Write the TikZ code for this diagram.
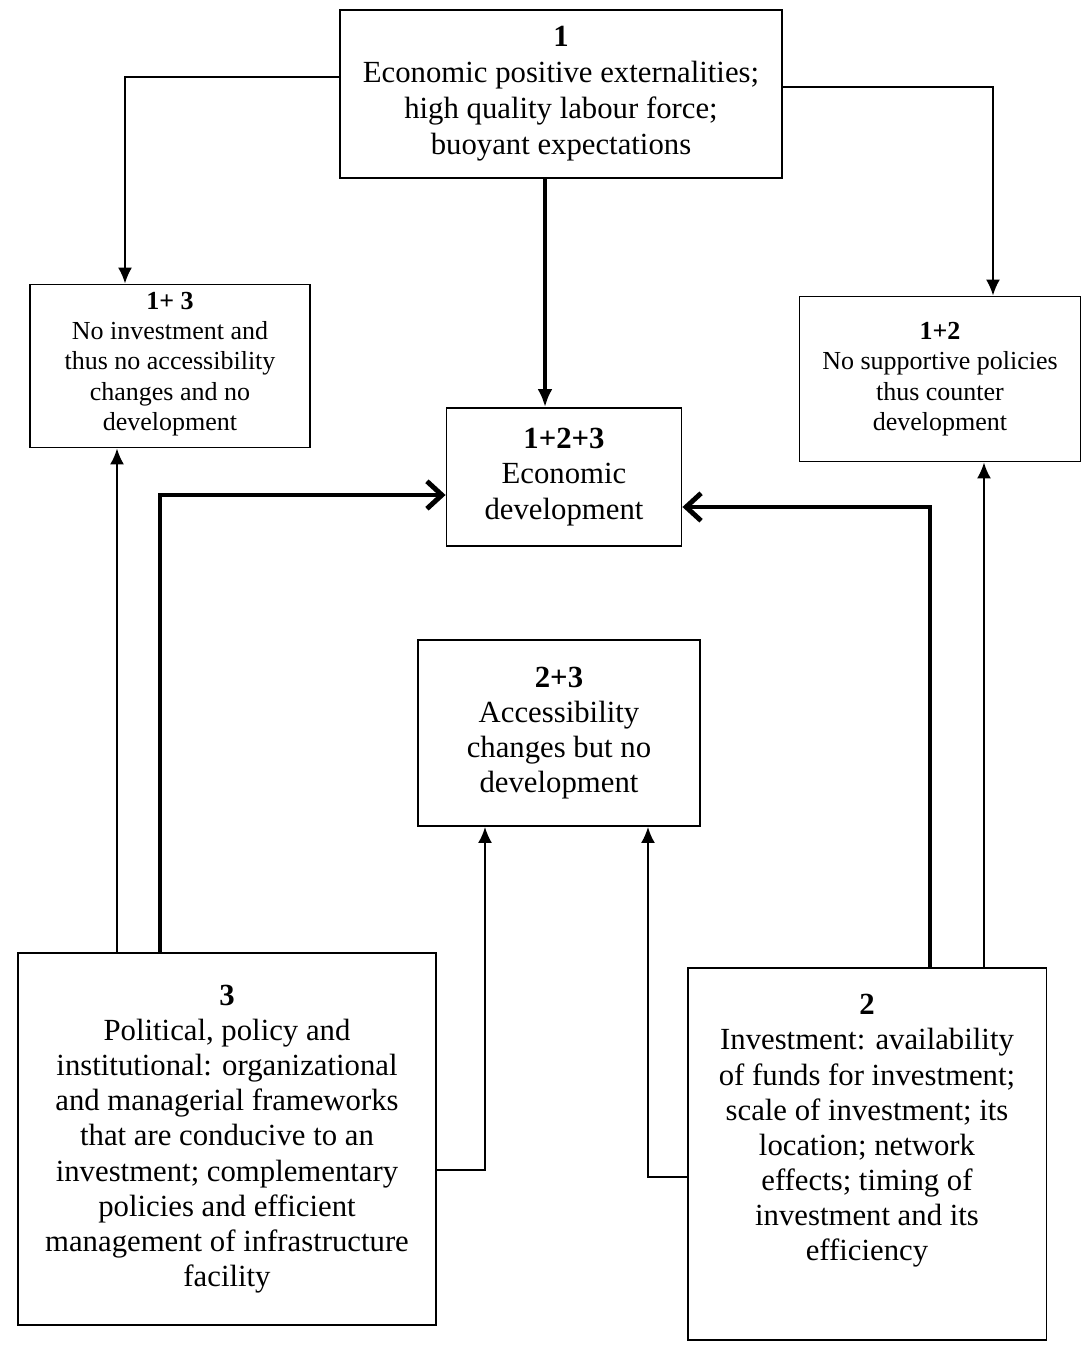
\documentclass[tikz,border=0pt]{standalone}
\usepackage{fontspec}
\setmainfont{Liberation Serif}
\usetikzlibrary{arrows.meta}
\begin{document}
\begin{tikzpicture}[x=0.02cm,y=-0.02cm,
    box/.style={draw,line width=1.1pt,align=center,inner sep=2pt},
    bigtext/.style={font=\fontsize{17.5}{20}\selectfont},
    smalltext/.style={font=\fontsize{14.8}{17.3}\selectfont},
    thin arrow/.style={line width=1.1pt,-{Latex[length=0.32cm,width=0.28cm]}},
    thick arrow/.style={line width=2.8pt,-{Straight Barb[length=0.3cm,width=0.55cm]}},
    thick down/.style={line width=2.8pt,-{Latex[length=0.36cm,width=0.3cm]}}]
    \useasboundingbox (0,0) rectangle (1081,1347);
    % boxes
    \node[box,bigtext,minimum width=8.86cm,minimum height=3.36cm,font=\fontsize{17.5}{20.5}\selectfont] (b1) at (561,94)
        {\textbf{1}\\Economic positive externalities;\\high quality labour force;\\buoyant expectations};
    \node[box,smalltext,minimum width=5.6cm,minimum height=3.26cm] (b13) at (170,366)
        {\textbf{1+ 3}\\No investment and\\thus no accessibility\\changes and no\\development\\[-12pt]};
    \node[box,smalltext,minimum width=5.62cm,minimum height=3.3cm] (b12) at (940,379)
        {\textbf{1+2}\\No supportive policies\\thus counter\\development};
    \node[box,bigtext,minimum width=4.7cm,minimum height=2.76cm] (b123) at (564,477)
        {\textbf{1+2+3}\\Economic\\development};
    \node[box,bigtext,minimum width=5.64cm,minimum height=3.72cm] (b23) at (559,733)
        {\textbf{2+3}\\Accessibility\\changes but no\\development};
    \node[box,bigtext,minimum width=8.38cm,minimum height=7.44cm] (b3) at (227,1139)
        {\textbf{3}\\Political, policy and\\institutional: organizational\\and managerial frameworks\\that are conducive to an\\investment; complementary\\policies and efficient\\management of infrastructure\\facility};
    \node[box,bigtext,minimum width=7.18cm,minimum height=7.44cm] (b2) at (867,1154)
        {\textbf{2}\\Investment: availability\\of funds for investment;\\scale of investment; its\\location; network\\effects; timing of\\investment and its\\efficiency\\[10pt]\mbox{}};
    % connectors
    \draw[thin arrow] ([yshift=0.34cm]b1.west) -| ([xshift=-0.9cm]b13.north);
    \draw[thin arrow] ([yshift=0.14cm]b1.east) -| ([xshift=1.06cm]b12.north);
    \draw[thick down] ([xshift=-0.32cm]b1.south) -- ([xshift=-0.32cm]b1.south |- b123.north);
    \draw[thick arrow] ([xshift=-1.34cm]b3.north) |- ([yshift=-0.36cm]b123.west);
    \draw[thin arrow] ([xshift=-2.2cm]b3.north) -- ([xshift=-2.2cm]b3.north |- b13.south);
    \draw[thin arrow] ([yshift=-0.62cm]b3.east) -| ([xshift=-1.48cm]b23.south);
    \draw[thin arrow] ([yshift=-0.46cm]b2.west) -| ([xshift=1.78cm]b23.south);
    \draw[thick arrow] ([xshift=1.26cm]b2.north) |- ([yshift=-0.6cm]b123.east);
    \draw[thin arrow] ([xshift=2.34cm]b2.north) -- ([xshift=2.34cm]b2.north |- b12.south);
\end{tikzpicture}
\end{document}
